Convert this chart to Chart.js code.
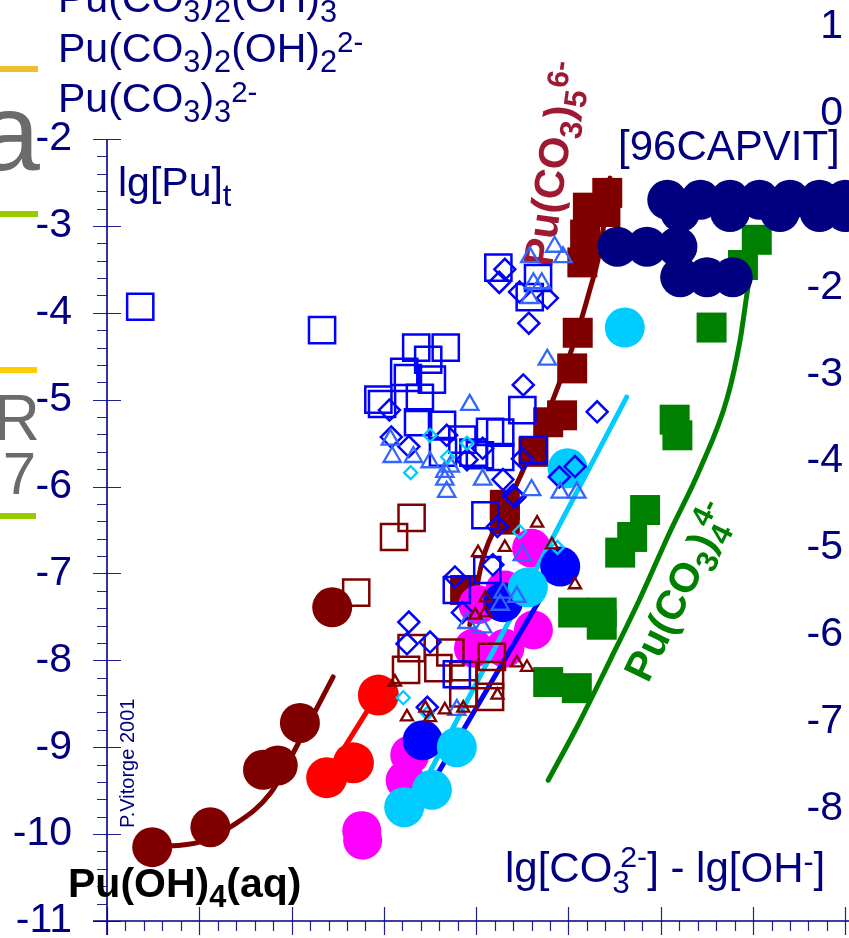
<!DOCTYPE html>
<html><head><meta charset="utf-8">
<script src="https://cdn.jsdelivr.net/npm/chart.js@4.4.1/dist/chart.umd.min.js"></script>
<style>html,body{margin:0;padding:0;background:#fff;}canvas{display:block;}</style>
</head><body>
<canvas id="c" width="849" height="938"></canvas>
<script>
// ---------------- DATA ----------------
const xMin = 0, xMax = 7.974;
const yLeftMin = -11, yLeftMax = -0.40;
const yRightMin = -9.293, yRightMax = 1.307;
const yLeftTicks = [-11,-10,-9,-8,-7,-6,-5,-4,-3,-2];
const yRightTicks = [1,0,-1,-2,-3,-4,-5,-6,-7,-8];

// Pu(OH)4(aq) – dark red circles and model curve
const darkRedCircles = [[0.49,-10.15],[1.12,-9.92],[1.69,-9.26],[1.85,-9.21],[2.09,-8.72],[2.44,-7.39]];
const darkRedCurve = [[0.49,-10.15],[1.01,-10.09],[1.35,-9.91],[1.77,-9.53],[2.09,-8.92],[2.45,-8.19]];
// red
const redCircles = [[2.38,-9.35],[2.67,-9.18],[2.94,-8.40]];
const redCurve = [[2.42,-9.26],[3.01,-8.26]];
// magenta
const magentaCircles = [[2.76,-9.96],[2.77,-10.07],[3.23,-9.38],[3.28,-9.09],[3.97,-7.86],[4.31,-7.86],[4.02,-7.36],[4.31,-7.19],[4.60,-6.71],[4.62,-7.65]];
// blue
const blueCircles = [[3.42,-8.92],[4.29,-7.33],[4.91,-6.92]];
const blueCurve = [[3.48,-9.49],[4.69,-7.30]];
// light blue
const cyanCircles = [[3.22,-9.69],[3.52,-9.49],[3.79,-9.00],[4.56,-7.16],[4.99,-5.79],[5.61,-4.17]];
const cyanCurve = [[3.45,-9.38],[5.63,-4.97]];
// Pu(CO3)5 6- : dark red squares and curve
const darkRedSquares = [[3.88,-7.19],[4.31,-6.21],[4.31,-6.38],[4.62,-5.60],[4.78,-5.26],[4.93,-5.18],[5.04,-4.64],[5.10,-4.23],[5.15,-3.42],[5.18,-3.10],[5.21,-2.79],[5.42,-2.62],[5.40,-2.84]];
const carb5Curve = [[3.93,-7.59],[4.07,-6.84],[4.31,-6.27],[4.58,-5.64],[4.85,-4.95],[5.07,-4.31],[5.23,-3.74],[5.34,-3.28],[5.45,-2.45]];
// Pu(CO3)4 4- : green squares and curve
const greenSquares = [[4.78,-8.25],[5.09,-8.32],[5.05,-7.45],[5.36,-7.45],[5.36,-7.59],[5.56,-6.76],[5.69,-6.58],[5.83,-6.27],[6.15,-5.23],[6.18,-5.41],[6.55,-4.17],[6.89,-3.45],[7.04,-3.16]];
const carb4Curve = [[4.78,-9.38],[5.09,-8.77],[5.45,-8.00],[5.77,-7.30],[6.10,-6.52],[6.42,-5.81],[6.72,-4.98],[6.86,-4.31],[6.94,-3.74],[6.97,-3.56]];
// [96CAPVIT] navy circles
const navyCircles = [[6.07,-2.70],[6.43,-2.70],[6.75,-2.70],[7.07,-2.70],[7.40,-2.70],[7.72,-2.70],[8.00,-2.70],
  [6.21,-2.84],[6.75,-2.84],[7.29,-2.84],[7.72,-2.84],[8.00,-2.84],
  [5.53,-3.24],[5.85,-3.24],[6.18,-3.24],
  [6.21,-3.59],[6.50,-3.59],[6.78,-3.59]];
// open symbols
const openBlueSquares = [[0.36,-3.93],[2.33,-4.20],[4.24,-3.48],[4.67,-3.60],[4.58,-3.82],[3.35,-4.40],[3.67,-4.40],[3.48,-4.54],[3.22,-4.68],[3.26,-4.75],[3.52,-4.77],[2.94,-5.00],[2.98,-5.05],[3.39,-4.98],[3.37,-5.26],[3.63,-5.29],[3.85,-5.46],[3.64,-5.61],[3.97,-5.61],[4.15,-5.37],[4.50,-5.12],[4.26,-5.38],[4.04,-5.64],[4.26,-5.66],[4.62,-5.58],[4.10,-6.33],[3.79,-7.19],[4.12,-6.96],[3.79,-8.16]];
const openBlueDiamonds = [[3.06,-5.12],[3.08,-5.43],[3.27,-5.54],[3.68,-5.41],[4.07,-5.56],[3.90,-5.69],[4.31,-3.50],[4.25,-3.65],[4.47,-3.76],[4.77,-3.83],[4.57,-4.12],[4.51,-4.83],[5.31,-5.14],[4.29,-5.92],[4.50,-5.68],[4.90,-5.89],[5.07,-5.77],[4.40,-6.10],[3.27,-7.56],[3.25,-7.81],[3.50,-7.79],[3.77,-7.04],[3.85,-7.45],[3.47,-8.54],[4.23,-6.46],[4.18,-6.90],[4.42,-6.12]];
const openLightBlueTriangles = [[3.93,-5.06],[3.07,-5.46],[3.09,-5.66],[3.32,-5.66],[3.50,-5.72],[3.66,-5.83],[3.66,-5.92],[3.68,-6.06],[4.07,-5.92],[3.72,-5.77],[4.85,-3.24],[4.94,-3.36],[4.58,-3.36],[4.62,-3.66],[4.71,-3.66],[4.58,-3.83],[4.77,-4.54],[4.60,-6.04],[4.91,-6.07],[5.09,-6.07],[4.50,-6.79],[4.29,-7.22],[4.44,-7.27],[4.26,-7.36],[4.07,-7.62],[3.90,-7.57],[3.79,-8.57]];
const openDarkRedSquares = [[3.11,-6.58],[3.30,-6.36],[2.70,-7.22],[3.30,-7.86],[3.24,-8.11],[3.59,-8.09],[3.72,-7.91],[3.86,-8.17],[3.86,-8.38],[4.17,-7.96],[4.15,-8.17],[4.15,-8.42]];
const openDarkRedTriangles = [[3.12,-8.25],[3.25,-8.65],[3.45,-8.55],[3.50,-8.66],[3.66,-8.57],[3.86,-8.55],[3.99,-7.48],[4.02,-6.76],[4.31,-6.70],[4.10,-7.28],[4.10,-7.45],[4.66,-6.42],[4.82,-6.67],[5.07,-7.13],[4.44,-8.03],[4.55,-8.08],[4.23,-8.40]];
const openCyanDiamonds = [[3.29,-5.84],[3.69,-5.66],[3.90,-5.50],[3.50,-5.41],[3.21,-8.43],[4.47,-6.52],[4.88,-6.70],[3.47,-8.61]];

// ---------------- STYLE ----------------
const FAM = '"Liberation Sans", Arial, Helvetica, sans-serif';
const NAVY = '#000080';
const DARKRED = '#800000';
const toXY = a => a.map(([x, y]) => ({x, y}));

function pts(label, arr, style, r, fill, stroke, bw, order) {
  return {label, data: toXY(arr), showLine: false, pointStyle: style, pointRadius: r, pointHoverRadius: r,
    pointBackgroundColor: fill, pointBorderColor: stroke, pointBorderWidth: bw, order, clip: false};
}
function curve(label, arr, color, w, order, tension) {
  return {label, data: toXY(arr), showLine: true, borderColor: color, backgroundColor: color, borderWidth: w,
    pointRadius: 0, pointHoverRadius: 0, tension: tension || 0, cubicInterpolationMode: 'monotone',
    borderCapStyle: 'round', borderJoinStyle: 'round', fill: false, order, clip: false};
}
const NONE = 'rgba(0,0,0,0)';

// rich text with sub/superscripts
function drawRich(ctx, parts, x, y, size, weight, color) {
  ctx.save();
  ctx.fillStyle = color; ctx.textAlign = 'left'; ctx.textBaseline = 'alphabetic';
  let cx = x;
  const f = s => `${weight} ${s}px ${FAM}`;
  for (const p of parts) {
    const [t, kind, t2] = p;
    if (kind === 'sub') {
      ctx.font = f(size * 0.75); ctx.fillText(t, cx, y + size * 0.25); cx += ctx.measureText(t).width;
    } else if (kind === 'sup') {
      ctx.font = f(size * 0.72); ctx.fillText(t, cx, y - size * 0.24); cx += ctx.measureText(t).width;
    } else if (kind === 'subsup') {
      ctx.font = f(size * 0.75); ctx.fillText(t, cx, y + size * 0.25); const w1 = ctx.measureText(t).width;
      ctx.font = f(size * 0.72); ctx.fillText(t2, cx + w1 * 0.45, y - size * 0.36); const w2 = ctx.measureText(t2).width;
      cx += Math.max(w1, w1 * 0.45 + w2);
    } else {
      ctx.font = f(size); ctx.fillText(t, cx, y); cx += ctx.measureText(t).width;
    }
  }
  ctx.restore();
}

const axesPlugin = {
  id: 'axesAndText',
  beforeDatasetsDraw(chart) {
    const ctx = chart.ctx, xs = chart.scales.x, ys = chart.scales.y;
    const x0 = xs.getPixelForValue(0);
    const yb = ys.getPixelForValue(-11), yt = ys.getPixelForValue(-2);
    ctx.save();
    ctx.strokeStyle = '#23238f'; ctx.lineWidth = 1.2; ctx.beginPath();
    for (let i = 0; i <= 45; i++) {
      const py = Math.round(ys.getPixelForValue(-11 + i * 0.2)) + 0.5;
      if (i % 5 === 0) { ctx.moveTo(x0 - 14, py); ctx.lineTo(x0 + 14, py); }
      else { ctx.moveTo(x0 - 10, py); ctx.lineTo(x0, py); }
    }
    for (let i = 0; i <= 45; i++) {
      const px = Math.round(xs.getPixelForValue(i * 0.2)) + 0.5;
      if (px > chart.width) break;
      if (i % 5 === 0) { ctx.moveTo(px, yb - 14); ctx.lineTo(px, yb + 14); }
      else { ctx.moveTo(px, yb); ctx.lineTo(px, yb + 10); }
    }
    ctx.stroke();
    ctx.strokeStyle = NAVY; ctx.lineWidth = 1.6; ctx.beginPath();
    ctx.moveTo(x0, yt); ctx.lineTo(x0, yb + 14);
    ctx.moveTo(x0 - 14, yb); ctx.lineTo(chart.width, yb);
    ctx.stroke();
    ctx.restore();

    // fragments of neighbouring slide items (left edge)
    ctx.save();
    ctx.fillStyle = '#f2bf2c'; ctx.fillRect(0, 66, 38, 6);
    ctx.fillStyle = '#99cc00'; ctx.fillRect(0, 211, 38, 6);
    ctx.fillStyle = '#ffcc00'; ctx.fillRect(0, 367, 37, 6);
    ctx.fillStyle = '#99cc00'; ctx.fillRect(0, 513, 36, 6);
    ctx.fillStyle = '#6b6b6b'; ctx.textAlign = 'right'; ctx.textBaseline = 'alphabetic';
    ctx.font = `110px ${FAM}`; ctx.fillText('a', 40, 170);
    ctx.font = `64px ${FAM}`; ctx.fillText('R', 40, 440);
    ctx.font = `60px ${FAM}`; ctx.fillText('7', 36, 494);
    ctx.restore();

    // legend fragments
    drawRich(ctx, [['Pu(CO'], ['3', 'sub'], [')'], ['2', 'sub'], ['(OH)'], ['3', 'sub']], 58, 12, 41, 'normal', NAVY);
    drawRich(ctx, [['Pu(CO'], ['3', 'sub'], [')'], ['2', 'sub'], ['(OH)'], ['2', 'sub'], ['2-', 'sup']], 58, 62, 41, 'normal', NAVY);
    drawRich(ctx, [['Pu(CO'], ['3', 'sub'], [')'], ['3', 'sub'], ['2-', 'sup']], 58, 112, 41, 'normal', NAVY);

    // annotations
    drawRich(ctx, [['lg[Pu]'], ['t', 'sub']], 118, 196, 41, 'normal', NAVY);
    drawRich(ctx, [['[96CAPVIT]']], 618, 160, 42, 'normal', NAVY);
    drawRich(ctx, [['Pu(OH)'], ['4', 'sub'], ['(aq)']], 68, 897, 41, 'bold', '#000000');
    drawRich(ctx, [['lg[CO'], ['3', 'subsup', '2-'], ['] - lg[OH'], ['-', 'sup'], [']']], 505, 882, 42, 'normal', NAVY);

    ctx.save();
    ctx.translate(134, 828); ctx.rotate(-Math.PI / 2);
    ctx.fillStyle = NAVY; ctx.font = `20px ${FAM}`; ctx.textBaseline = 'alphabetic';
    ctx.fillText('P.Vitorge 2001', 0, 0);
    ctx.restore();

    ctx.save();
    ctx.translate(552, 268); ctx.rotate(-82 * Math.PI / 180);
    drawRich(ctx, [['Pu(CO'], ['3', 'sub'], [')'], ['5', 'sub'], ['6-', 'sup']], 0, 0, 42, 'bold', '#9e1a33');
    ctx.restore();

    ctx.save();
    ctx.translate(648, 684); ctx.rotate(-64 * Math.PI / 180);
    drawRich(ctx, [['Pu(CO'], ['3', 'sub'], [')'], ['4', 'subsup', '4-']], 0, 0, 41, 'bold', '#008000');
    ctx.restore();
  }
};

const datasets = [
  curve('Pu(CO3)4 model', carb4Curve, '#008000', 5, 20, 0.3),
  pts('Pu(CO3)4 data', greenSquares, 'rect', 21.2, '#008000', '#008000', 0, 19),
  curve('Pu(CO3)5 model', carb5Curve, DARKRED, 5, 18, 0.3),
  pts('Pu(CO3)5 data', darkRedSquares, 'rect', 21.2, DARKRED, DARKRED, 0, 17),
  pts('Pu(OH)4 data', darkRedCircles, 'circle', 20, DARKRED, DARKRED, 0, 16),
  curve('Pu(OH)4 model', darkRedCurve, DARKRED, 5, 15, 0.3),
  pts('red data', redCircles, 'circle', 20.5, '#ff0000', '#ff0000', 0, 14),
  curve('red model', redCurve, '#ff0000', 5, 13, 0),
  pts('magenta data', magentaCircles, 'circle', 19.5, '#ff00ff', '#ff00ff', 0, 12),
  curve('blue model', blueCurve, '#0000ff', 5, 11, 0),
  curve('light blue model', cyanCurve, '#00ccff', 5, 10, 0),
  pts('blue data', blueCircles, 'circle', 20, '#0000ff', '#0000ff', 0, 9),
  pts('light blue data', cyanCircles, 'circle', 20, '#00ccff', '#00ccff', 0, 8),
  pts('96CAPVIT', navyCircles, 'circle', 20, NAVY, NAVY, 0, 7),
  pts('open dark red squares', openDarkRedSquares, 'rect', 18.5, NONE, DARKRED, 2.5, 6),
  pts('open blue squares', openBlueSquares, 'rect', 18.5, NONE, '#0000ff', 2.5, 5),
  pts('open blue diamonds', openBlueDiamonds, 'rectRot', 10.5, NONE, '#0000ff', 2.5, 4),
  pts('open light blue triangles', openLightBlueTriangles, 'triangle', 10, NONE, '#3366ff', 2.3, 3),
  pts('open cyan diamonds', openCyanDiamonds, 'rectRot', 6.5, NONE, '#00ccff', 2.3, 2),
  pts('open dark red triangles', openDarkRedTriangles, 'triangle', 7, NONE, DARKRED, 2.3, 1)
];

new Chart(document.getElementById('c'), {
  type: 'scatter',
  data: {datasets},
  plugins: [axesPlugin],
  options: {
    responsive: false, animation: false, events: [], devicePixelRatio: 1,
    layout: {autoPadding: false, padding: {left: 0, right: 6, top: 0, bottom: 17}},
    plugins: {legend: {display: false}, tooltip: {enabled: false}, title: {display: false}},
    scales: {
      x: {type: 'linear', min: xMin, max: xMax, display: false},
      y: {
        type: 'linear', position: 'left', min: yLeftMin, max: yLeftMax,
        grid: {display: false, drawTicks: false}, border: {display: false},
        ticks: {color: NAVY, font: {size: 41, family: FAM}, padding: 35, autoSkip: false, callback: v => String(v)},
        afterBuildTicks: s => { s.ticks = yLeftTicks.map(v => ({value: v})); },
        afterFit: s => { s.width = 107; s.paddingTop = 0; s.paddingBottom = 0; }
      },
      y2: {
        type: 'linear', position: 'right', min: yRightMin, max: yRightMax,
        grid: {display: false, drawTicks: false}, border: {display: false},
        ticks: {color: NAVY, font: {size: 41, family: FAM}, padding: 0, mirror: true, autoSkip: false, callback: v => String(v)},
        afterBuildTicks: s => { s.ticks = yRightTicks.map(v => ({value: v})); },
        afterFit: s => { s.width = 0; s.paddingTop = 0; s.paddingBottom = 0; }
      }
    }
  }
});
</script>
</body></html>
